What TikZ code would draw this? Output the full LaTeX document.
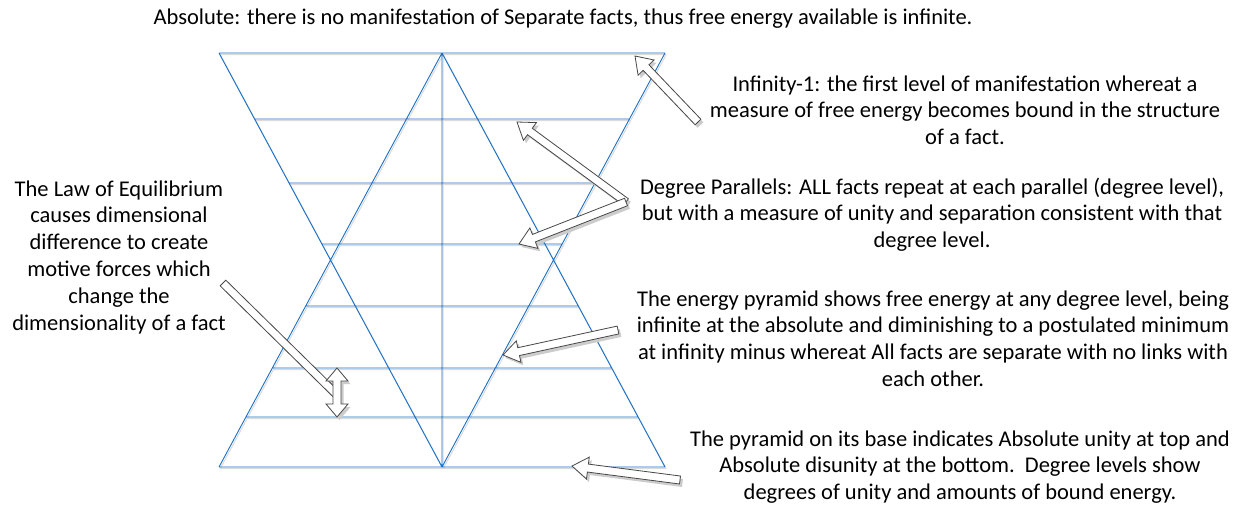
\documentclass[tikz,border=0pt]{standalone}
\usepackage{fontspec}
\setmainfont{Carlito}
\usetikzlibrary{calc}
\definecolor{lineblue}{RGB}{25,112,200}
\tikzset{
  grid/.style={draw=lineblue, line width=0.9pt},
  gridshadow/.style={draw=black!14, line width=1pt},
  arrbody/.style={fill=white, draw=black!72, line width=0.8pt, line join=miter},
  arrshadow/.style={fill=black!20, draw=none},
  lbl/.style={align=center, inner sep=0pt, font=\fontsize{22.5}{26.8}\selectfont, anchor=base},
}
% block arrow outline: #1 tail, #2 tip
\newcommand\blkpath[2]{(#2) -- ($(#2)!16pt!(#1)!11pt!90:(#1)$) -- ($(#2)!16pt!(#1)!4pt!90:(#1)$) -- ($(#1)!4pt!-90:(#2)$) -- ($(#1)!4pt!90:(#2)$) -- ($(#2)!16pt!(#1)!4pt!-90:(#1)$) -- ($(#2)!16pt!(#1)!11pt!-90:(#1)$) -- cycle}
\newcommand\barpath[2]{($(#1)!4pt!90:(#2)$) -- ($(#1)!4pt!-90:(#2)$) -- ($(#2)!4pt!90:(#1)$) -- ($(#2)!4pt!-90:(#1)$) -- cycle}
\newcommand\gridpath{(TL) -- (TR) (BL) -- (BR) (TL) -- (BC) (TR) -- (BC) (TC) -- (BL) (TC) -- (BR) (TC) -- (BC)
  ($(TL)!0.1594!(BC)$) -- ($(TR)!0.1594!(BC)$)
  ($(TL)!0.3140!(BC)$) -- ($(TR)!0.3140!(BC)$)
  ($(TL)!0.4614!(BC)$) -- ($(TR)!0.4614!(BC)$)
  ($(TC)!0.6111!(BL)$) -- ($(TC)!0.6111!(BR)$)
  ($(TC)!0.7609!(BL)$) -- ($(TC)!0.7609!(BR)$)
  ($(TC)!0.8792!(BL)$) -- ($(TC)!0.8792!(BR)$)}
\newcommand\dblpath{(DAt) -- ++(-11,13) -- ++(7,0) -- ++(0,23) -- ++(-7,0) -- ++(11,13) -- ++(11,-13) -- ++(-7,0) -- ++(0,-23) -- ++(7,0) -- cycle}
\begin{document}
\begin{tikzpicture}[x=1pt,y=-1pt]
\useasboundingbox[fill=white] (0,0) rectangle (1241,507);
% frame coordinates
\coordinate (TL) at (219,53);
\coordinate (TC) at (442,53);
\coordinate (TR) at (665,53);
\coordinate (BL) at (219,467);
\coordinate (BC) at (442,467);
\coordinate (BR) at (665,467);
% grid
\draw[gridshadow, transform canvas={shift={(1.2pt,-1.6pt)}}] \gridpath;
\draw[grid] \gridpath;
% texts (anchored at the baseline of their last line)
\node[lbl] (top) at (563,24) {Absolute: there is no manifestation of Separate facts, thus free energy available is infinite.};
\node[lbl] (inf) at (965,144.6) {Infinity-1: the first level of manifestation whereat a\\measure of free energy becomes bound in the structure\\of a fact.};
\node[lbl] (deg) at (932,247.6) {Degree Parallels: ALL facts repeat at each parallel (degree level),\\but with a measure of unity and separation consistent with that\\degree level.};
\node[lbl] (energy) at (933,386.4) {The energy pyramid shows free energy at any degree level, being\\infinite at the absolute and diminishing to a postulated minimum\\at infinity minus whereat All facts are separate with no links with\\each other.};
\node[lbl] (base) at (960,499.6) {The pyramid on its base indicates Absolute unity at top and\\Absolute disunity at the bottom.\ \ Degree levels show\\degrees of unity and amounts of bound energy.};
\node[lbl] (law) at (119,330) {The Law of Equilibrium\\causes dimensional\\difference to create\\motive forces which\\change the\\dimensionality of a fact};
% arrow coordinates
\coordinate (a1s) at (698,122);
\coordinate (a1t) at (635,56);
\coordinate (a2s) at (626,202);
\coordinate (a2t) at (517,122);
\coordinate (a2u) at (519,244);
\coordinate (a3s) at (618,330);
\coordinate (a3t) at (503,355);
\coordinate (a4s) at (680,480);
\coordinate (a4t) at (572,466);
\coordinate (a5s) at (223,283);
\coordinate (a5e) at (336,394);
\coordinate (DAt) at (337,368);
% shadows
\begin{scope}[transform canvas={shift={(2.5pt,-3pt)}}]
\fill[arrshadow] \blkpath{a1s}{a1t};
\fill[arrshadow] \blkpath{a2s}{a2t};
\fill[arrshadow] \blkpath{a2s}{a2u};
\fill[arrshadow] \blkpath{a3s}{a3t};
\fill[arrshadow] \blkpath{a4s}{a4t};
\fill[arrshadow] \barpath{a5s}{a5e};
\fill[arrshadow] \dblpath;
\end{scope}
% arrows
\draw[arrbody] \blkpath{a1s}{a1t};
\draw[arrbody] \blkpath{a2s}{a2t};
\draw[arrbody] \blkpath{a2s}{a2u};
\draw[arrbody] \blkpath{a3s}{a3t};
\draw[arrbody] \blkpath{a4s}{a4t};
\draw[arrbody] \barpath{a5s}{a5e};
\draw[arrbody] \dblpath;
\end{tikzpicture}
\end{document}
